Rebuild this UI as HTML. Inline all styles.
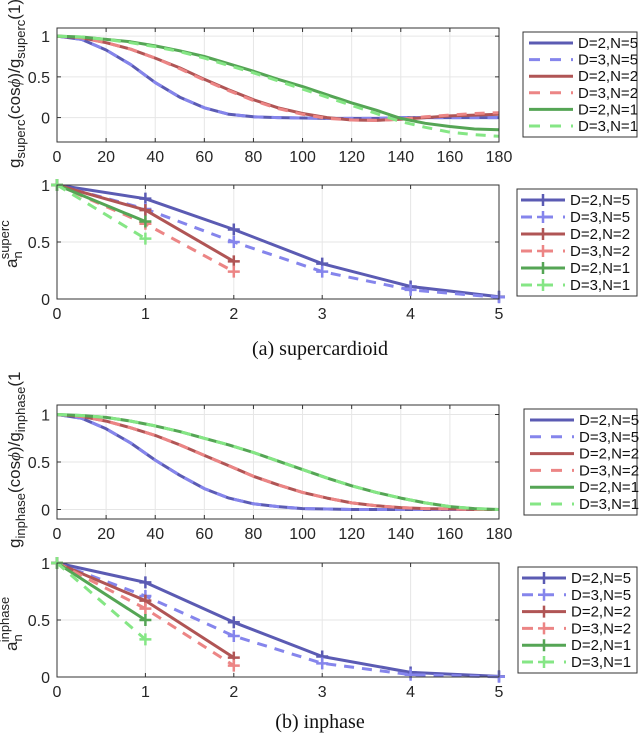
<!DOCTYPE html>
<html><head><meta charset="utf-8"><style>
html,body{margin:0;padding:0;background:#fff;}
svg{display:block;font-family:"Liberation Sans",sans-serif;}
</style></head><body>
<svg id="fig" width="640" height="733" viewBox="0 0 640 733"></svg>
<script>
// ---- data ----
const angles = [0,10,20,30,40,50,60,70,80,90,100,110,120,130,140,150,160,170,180];
const supD2N5 = [1,0.96,0.83,0.65,0.43,0.25,0.12,0.04,0.01,0,-0.005,-0.01,-0.01,-0.01,0,0,0,0,0];
const supD3N5 = [1,0.96,0.83,0.65,0.43,0.25,0.12,0.04,0.01,0,-0.005,-0.01,-0.01,-0.01,0,0,0,0,0];
const supD2N2 = [1,0.98,0.92,0.84,0.73,0.61,0.47,0.34,0.22,0.12,0.05,0.0,-0.03,-0.035,-0.02,0,0.02,0.03,0.04];
const supD3N2 = [1,0.98,0.92,0.84,0.73,0.60,0.46,0.33,0.21,0.11,0.04,-0.01,-0.03,-0.035,-0.02,0.01,0.03,0.05,0.06];
const supD2N1 = [1,0.99,0.96,0.93,0.88,0.82,0.75,0.66,0.57,0.47,0.38,0.28,0.18,0.09,-0.01,-0.07,-0.11,-0.14,-0.15];
const supD3N1 = [1,0.99,0.96,0.92,0.87,0.81,0.73,0.64,0.55,0.45,0.35,0.25,0.15,0.05,-0.05,-0.12,-0.18,-0.21,-0.23];
const inpD2N5 = [1,0.96,0.85,0.7,0.52,0.36,0.22,0.12,0.06,0.03,0.01,0.005,0,0,0,0,0,0,0];
const inpD3N5 = [1,0.96,0.85,0.7,0.52,0.36,0.22,0.12,0.06,0.03,0.01,0.005,0,0,0,0,0,0,0];
const inpD2N2 = [1,0.98,0.93,0.86,0.78,0.68,0.57,0.46,0.35,0.26,0.18,0.12,0.07,0.04,0.02,0.01,0.005,0,0];
const inpD3N2 = [1,0.98,0.93,0.86,0.78,0.68,0.57,0.46,0.35,0.26,0.18,0.12,0.07,0.04,0.02,0.01,0.005,0,0];
const inpD2N1 = [1,0.99,0.97,0.93,0.88,0.82,0.75,0.68,0.6,0.51,0.42,0.33,0.25,0.18,0.12,0.07,0.03,0.01,0];
const inpD3N1 = [1,0.99,0.97,0.93,0.88,0.82,0.75,0.68,0.6,0.51,0.42,0.33,0.25,0.18,0.12,0.07,0.03,0.01,0];
const orders = [0,1,2,3,4,5];
const aSupD2N5 = [1,0.88,0.61,0.31,0.11,0.02];
const aSupD3N5 = [1,0.79,0.5,0.24,0.08,0.015];
const aSupD2N2 = [1,0.78,0.33];
const aSupD3N2 = [1,0.66,0.24];
const aSupD2N1 = [1,0.68];
const aSupD3N1 = [1,0.53];
const aInpD2N5 = [1,0.83,0.48,0.18,0.04,0.005];
const aInpD3N5 = [1,0.71,0.36,0.12,0.02,0.002];
const aInpD2N2 = [1,0.67,0.17];
const aInpD3N2 = [1,0.6,0.1];
const aInpD2N1 = [1,0.5];
const aInpD3N1 = [1,0.33];
const labels = ["D=2,N=5","D=3,N=5","D=2,N=2","D=3,N=2","D=2,N=1","D=3,N=1"];
const xTicksDeg = [0,20,40,60,80,100,120,140,160,180];
const xTicksN = [0,1,2,3,4,5];
const yTicksTop = [0,0.5,1];
const yTicksBot = [0,0.5,1];

const colors = ["#5b5bb3","#8585ec","#b05555","#ec8585","#55a555","#85e685"];
const dashed = [false,true,false,true,false,true];
const NS="http://www.w3.org/2000/svg";
const svg=document.getElementById('fig');
function el(tag,attrs,parent,text){const e=document.createElementNS(NS,tag);for(const k in attrs)e.setAttribute(k,attrs[k]);if(text!==undefined)e.textContent=text;(parent||svg).appendChild(e);return e;}

function panel(cfg){
  const g=el('g',{});
  
  
  const L=57,R=499,T=cfg.top,B=cfg.top+114;
  const sx=v=>L+(v-cfg.xmin)/(cfg.xmax-cfg.xmin)*(R-L);
  const sy=v=>B-(v-cfg.ymin)/(cfg.ymax-cfg.ymin)*(B-T);
  el('rect',{x:L,y:T,width:R-L,height:B-T,fill:'#fff'},g);
  cfg.xt.forEach(t=>{const x=sx(t);
    el('line',{x1:x,x2:x,y1:T,y2:B,stroke:'#e6e6e6','stroke-width':1},g);
    el('line',{x1:x,x2:x,y1:B,y2:B-4,stroke:'#333'},g);
    el('line',{x1:x,x2:x,y1:T,y2:T+4,stroke:'#333'},g);
    const tx=el('text',{x:x,y:B+20,'text-anchor':'middle','font-size':16,fill:'#262626'},g,String(t));
    
    
  });
  cfg.yt.forEach(t=>{const y=sy(t);
    el('line',{x1:L,x2:R,y1:y,y2:y,stroke:'#e6e6e6','stroke-width':1},g);
    el('line',{x1:L,x2:L+4,y1:y,y2:y,stroke:'#333'},g);
    el('line',{x1:R,x2:R-4,y1:y,y2:y,stroke:'#333'},g);
    const tx=el('text',{x:L-7,y:y+6,'text-anchor':'end','font-size':16,fill:'#262626'},g,String(t));
    
    
  });
  const clip='clip'+cfg.top;
  const cp=el('clipPath',{id:clip},g);el('rect',{x:L,y:T,width:R-L,height:B-T},cp);
  const pg=el('g',{'clip-path':cfg.marker?'':'url(#'+clip+')'},g);
  cfg.series.forEach((s,i)=>{
    const xs=cfg.xs.slice(0,s.length);
    const pts=s.map((v,j)=>sx(xs[j]).toFixed(1)+','+sy(v).toFixed(1)).join(' ');
    const p=el('polyline',{points:pts,fill:'none',stroke:colors[i],'stroke-width':3,'stroke-linejoin':'round','stroke-dasharray':dashed[i]?'10,8':'none'},pg);
    
    
    if(cfg.marker){s.forEach((v,j)=>{const x=sx(xs[j]),y=sy(v);
      const m=el('path',{d:`M${x-6},${y}H${x+6}M${x},${y-6}V${y+6}`,stroke:colors[i],'stroke-width':2.5},pg);
      
      
    });}
  });
  el('rect',{x:L,y:T,width:R-L,height:B-T,fill:'none',stroke:'#333','stroke-width':1},g);
  const lg=el('g',{},g);
  
  
  const lx=cfg.leg[0],ly=cfg.leg[1],lw=637-lx,lh=cfg.leg[2];
  el('rect',{x:lx,y:ly,width:lw,height:lh,fill:'#fff',stroke:'#333'},lg);
  labels.forEach((lab,i)=>{const y=ly+11+i*(lh-22)/5;
    const s0=lx+(cfg.marker?4:6), s1=s0+44;
    el('line',{x1:s0,x2:s1,y1:y,y2:y,stroke:colors[i],'stroke-width':3,'stroke-dasharray':dashed[i]?'11,10':'none'},lg);
    if(cfg.marker){const c=(s0+s1)/2;el('path',{d:`M${c-6},${y}H${c+6}M${c},${y-6}V${y+6}`,stroke:colors[i],'stroke-width':2.5},lg);}
    const t=el('text',{x:s1+5,y:y+5,'font-size':15,fill:'#111'},lg,lab);
    
    
  });
  return g;
}
panel({name:'supercardioid-pattern-plot',top:28,xmin:0,xmax:180,ymin:-0.3,ymax:1.1,xs:angles,xt:xTicksDeg,yt:yTicksTop,
  series:[supD2N5,supD3N5,supD2N2,supD3N2,supD2N1,supD3N1],leg:[523,32,105]});
panel({name:'supercardioid-coefficient-plot',top:185,xmin:0,xmax:5,ymin:0,ymax:1,xs:orders,xt:xTicksN,yt:yTicksBot,marker:true,
  series:[aSupD2N5,aSupD3N5,aSupD2N2,aSupD3N2,aSupD2N1,aSupD3N1],leg:[517,189,107]});
panel({name:'inphase-pattern-plot',top:405,xmin:0,xmax:180,ymin:-0.1,ymax:1.1,xs:angles,xt:xTicksDeg,yt:yTicksTop,
  series:[inpD2N5,inpD3N5,inpD2N2,inpD3N2,inpD2N1,inpD3N1],leg:[524,409,106]});
panel({name:'inphase-coefficient-plot',top:563,xmin:0,xmax:5,ymin:0,ymax:1,xs:orders,xt:xTicksN,yt:yTicksBot,marker:true,
  series:[aInpD2N5,aInpD3N5,aInpD2N2,aInpD3N2,aInpD2N1,aInpD3N1],leg:[518,567,106]});
</script>
<svg width="640" height="733" style="position:absolute;left:0;top:0">
 <g font-family="Liberation Sans, sans-serif" fill="#222">
  <text transform="translate(20,168) rotate(-90)" font-size="17">g<tspan font-size="13" dy="5">superc</tspan><tspan dy="-5">(cos</tspan><tspan font-family="Liberation Serif, serif" font-style="italic">ϕ</tspan>)/g<tspan font-size="13" dy="5">superc</tspan><tspan dy="-5">(1)</tspan></text>
  <text transform="translate(17,268) rotate(-90)" font-size="17">a<tspan font-size="13" dy="5">n</tspan><tspan font-size="13" dx="-8" dy="-13">superc</tspan></text>
  <text transform="translate(20,548) rotate(-90)" font-size="17">g<tspan font-size="13" dy="5">inphase</tspan><tspan dy="-5">(cos</tspan><tspan font-family="Liberation Serif, serif" font-style="italic">ϕ</tspan>)/g<tspan font-size="13" dy="5">inphase</tspan><tspan dy="-5">(1</tspan></text>
  <text transform="translate(17,651) rotate(-90)" font-size="17">a<tspan font-size="13" dy="5">n</tspan><tspan font-size="13" dx="-8" dy="-13">inphase</tspan></text>
 </g>
 <text x="320" y="355" text-anchor="middle" font-family="Liberation Serif, serif" font-size="20" fill="#111">(a)  supercardioid</text>
 <text x="320" y="728" text-anchor="middle" font-family="Liberation Serif, serif" font-size="20" fill="#111">(b)  inphase</text>
</svg>
</body></html>
